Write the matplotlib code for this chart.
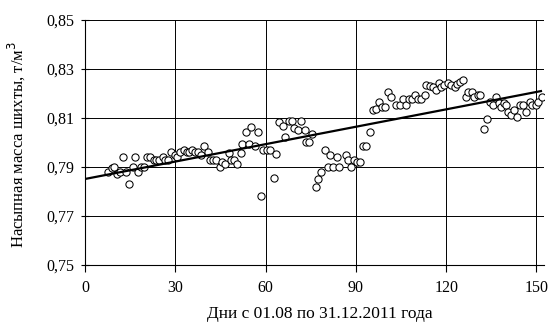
import numpy as np
import matplotlib
matplotlib.use("Agg")
import matplotlib.pyplot as plt
from matplotlib.ticker import FuncFormatter

dni = [7.5, 8.9, 9.5, 10.5, 11.6, 12.5, 13.5, 14.6, 15.8, 16.6,
       17.5, 18.6, 19.4, 20.5, 21.6, 22.7, 23.6, 24.6, 25.7, 26.6,
       27.5, 28.6, 29.7, 30.5, 31.6, 32.7, 33.8, 34.6, 35.4, 36.5,
       37.6, 38.5, 39.6, 40.7, 41.5, 42.4, 43.5, 44.7, 45.6, 46.6,
       47.8, 48.3, 49.4, 50.6, 51.7, 52.2, 53.3, 54.4, 55.2, 56.3,
       57.5, 58.5, 59.1, 60.4, 61.5, 62.7, 63.5, 64.5, 65.7, 66.5,
       67.6, 68.7, 69.5, 70.7, 71.8, 72.9, 73.3, 74.5, 75.5, 76.6,
       77.3, 78.5, 79.6, 80.7, 81.5, 82.5, 83.6, 84.5, 86.6, 87.5,
       88.5, 89.5, 90.4, 91.3, 92.3, 93.5, 94.6, 95.6, 96.5, 97.6,
       98.7, 99.6, 100.6, 101.7, 103.4, 104.5, 105.6, 106.5, 107.6, 108.6,
       109.5, 110.6, 111.7, 112.8, 113.4, 114.5, 115.6, 116.7, 117.6, 118.3,
       119.4, 120.5, 121.7, 122.8, 123.7, 124.7, 125.5, 126.6, 127.4, 128.5,
       129.4, 130.5, 131.4, 132.5, 133.6, 134.6, 135.5, 136.6, 137.5, 138.2,
       139.1, 139.8, 140.5, 141.6, 142.5, 143.6, 144.4, 145.5, 146.6, 147.7,
       148.6, 149.7, 150.4, 151.8]
massa = [0.788, 0.7895, 0.790, 0.787, 0.788, 0.794, 0.788, 0.783, 0.790, 0.794,
         0.788, 0.790, 0.790, 0.794, 0.794, 0.793, 0.793, 0.793, 0.794, 0.793,
         0.793, 0.796, 0.795, 0.794, 0.796, 0.797, 0.796, 0.796, 0.797, 0.796,
         0.796, 0.795, 0.7986, 0.796, 0.7928, 0.7928, 0.7928, 0.790, 0.7922, 0.7911,
         0.7959, 0.7928, 0.7928, 0.7911, 0.7959, 0.7993, 0.8044, 0.7993, 0.8064, 0.7985,
         0.8044, 0.7783, 0.7969, 0.7969, 0.7969, 0.7855, 0.7955, 0.8085, 0.8066, 0.8023,
         0.8086, 0.8086, 0.806, 0.805, 0.8086, 0.805, 0.800, 0.800, 0.8035, 0.782,
         0.785, 0.788, 0.797, 0.790, 0.795, 0.790, 0.794, 0.790, 0.795, 0.793,
         0.790, 0.793, 0.792, 0.792, 0.7985, 0.7985, 0.8044, 0.8133, 0.8136, 0.8167,
         0.8144, 0.8144, 0.8204, 0.8185, 0.8154, 0.8154, 0.8177, 0.8154, 0.8177, 0.8177,
         0.8195, 0.8177, 0.8177, 0.8195, 0.8236, 0.8229, 0.8226, 0.8215, 0.8243, 0.8226,
         0.8236, 0.8243, 0.8236, 0.8226, 0.824, 0.8245, 0.8254, 0.8185, 0.8204, 0.8204,
         0.8185, 0.8195, 0.8195, 0.8053, 0.8095, 0.8167, 0.8154, 0.8185, 0.8163, 0.8144,
         0.8163, 0.8154, 0.8126, 0.8112, 0.8133, 0.8103, 0.8154, 0.8154, 0.8126, 0.8167,
         0.8154, 0.8154, 0.8167, 0.8185]

x_ticks = [0, 30, 60, 90, 120, 150]
y_ticks = [0.75, 0.77, 0.79, 0.81, 0.83, 0.85]

plt.rcParams['font.family'] = ['Liberation Serif', 'DejaVu Serif']

fig = plt.figure(figsize=(5.5, 3.31), dpi=100)
ax = fig.add_axes([0.155, 0.199, 0.834, 0.741])

# linear trend as in the original
k, b = np.polyfit(dni, massa, 1)
xt = np.array([0, 151.5])
ax.plot(xt, k * xt + b, color='black', lw=1.6, zorder=4)

ax.plot(dni, massa, 'o', ms=5.2, mfc='white', mec='black', mew=0.75, zorder=3)

ax.set_xlim(0, 152.5)
ax.set_ylim(0.75, 0.85)
ax.set_xticks(x_ticks)
ax.set_yticks(y_ticks)
ax.yaxis.set_major_formatter(FuncFormatter(lambda v, p: ('%.2f' % v).replace('.', ',')))
ax.grid(True, color='black', lw=0.7)
ax.set_axisbelow(True)
for s in ['top', 'right']:
    ax.spines[s].set_visible(False)
ax.tick_params(axis='y', direction='inout', length=6, width=0.8, labelsize=11.5, pad=5)
ax.tick_params(axis='x', direction='out', length=5, width=0.8, labelsize=11.5, pad=6)

ax.set_ylabel('Насыпная масса шихты, т/м$^3$', fontsize=12)
ax.yaxis.set_label_coords(-0.128, 0.49)
ax.set_xlabel('Дни с 01.08 по 31.12.2011 года', fontsize=12.5, va='top')
ax.xaxis.set_label_coords(0.512, -0.168)

fig.savefig('out.png', dpi=100)
